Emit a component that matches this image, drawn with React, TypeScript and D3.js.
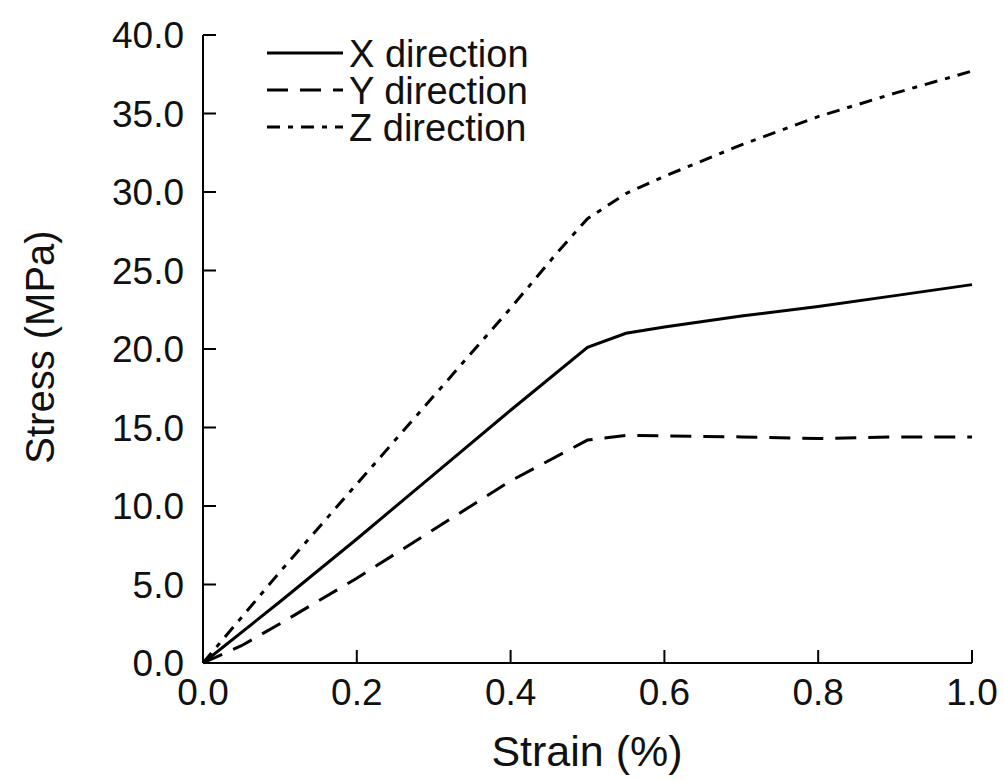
import React from 'react';
import * as d3 from 'd3';

// strain (%) sample points and stress (MPa) for each direction
const strainX = [0, 0.1, 0.2, 0.3, 0.4, 0.5, 0.55, 0.6, 0.7, 0.8, 0.9, 1.0];
const stressX = [0, 3.9, 7.9, 12.0, 16.1, 20.1, 21.0, 21.4, 22.1, 22.7, 23.4, 24.1];

const strainY = [0, 0.05, 0.1, 0.2, 0.3, 0.4, 0.5, 0.55, 0.7, 0.8, 0.9, 1.0];
const stressY = [0, 1.1, 2.5, 5.4, 8.5, 11.6, 14.2, 14.5, 14.4, 14.3, 14.4, 14.4];

const strainZ = [0, 0.1, 0.2, 0.3, 0.4, 0.46, 0.5, 0.55, 0.6, 0.7, 0.8, 0.9, 1.0];
const stressZ = [0, 5.8, 11.4, 17.0, 22.6, 26.1, 28.3, 29.9, 31.0, 33.0, 34.8, 36.3, 37.7];

const xTicks = [0, 0.2, 0.4, 0.6, 0.8, 1.0];
const yTicks = [0, 5, 10, 15, 20, 25, 30, 35, 40];

const seriesNames = ['X direction', 'Y direction', 'Z direction'];
const dashes = ['none', '21 12', '13 8 5 8'];

const W = 1004;
const H = 781;
const FONT = '"Liberation Sans", Arial, Helvetica, sans-serif';

const App = () => {
  const x = d3.scaleLinear().domain([0, 1]).range([203, 972]);
  const y = d3.scaleLinear().domain([0, 40]).range([663, 35]);

  const line = d3
    .line<[number, number]>()
    .x((d) => x(d[0]))
    .y((d) => y(d[1]));

  const series = [
    strainX.map((s, i) => [s, stressX[i]] as [number, number]),
    strainY.map((s, i) => [s, stressY[i]] as [number, number]),
    strainZ.map((s, i) => [s, stressZ[i]] as [number, number]),
  ];

  return (
    <svg
      width={W}
      height={H}
      style={{ position: 'absolute', left: 0, top: 0, background: '#fff' }}
      fontFamily={FONT}
    >
      {/* axes */}
      <line x1={x(0)} x2={x(0)} y1={y(40)} y2={y(0)} stroke="#000" strokeWidth={2} />
      <line x1={x(0)} x2={x(1)} y1={y(0)} y2={y(0)} stroke="#000" strokeWidth={2} />

      {yTicks.map((t) => (
        <g key={'y' + t}>
          <line x1={x(0)} x2={x(0) + 13} y1={y(t)} y2={y(t)} stroke="#000" strokeWidth={2} />
          <text x={184} y={y(t)} dy="0.36em" textAnchor="end" fontSize={37} fill="#111">
            {t.toFixed(1)}
          </text>
        </g>
      ))}

      {xTicks.map((t) => (
        <g key={'x' + t}>
          <line x1={x(t)} x2={x(t)} y1={y(0)} y2={y(0) - 13} stroke="#000" strokeWidth={2} />
          <text x={x(t)} y={705} textAnchor="middle" fontSize={37} fill="#111">
            {t.toFixed(1)}
          </text>
        </g>
      ))}

      <text x={587} y={766} textAnchor="middle" fontSize={43} fill="#111">
        Strain (%)
      </text>
      <text
        transform={`translate(54, 347) rotate(-90)`}
        textAnchor="middle"
        fontSize={40}
        fill="#111"
      >
        Stress (MPa)
      </text>

      {/* data lines */}
      {series.map((s, i) => (
        <path
          key={seriesNames[i]}
          d={line(s) || ''}
          fill="none"
          stroke="#000"
          strokeWidth={3}
          strokeDasharray={dashes[i]}
        />
      ))}

      {/* legend */}
      {seriesNames.map((name, i) => {
        const ly = 53 + i * 37;
        return (
          <g key={'leg' + name}>
            <line
              x1={267}
              x2={343}
              y1={ly}
              y2={ly}
              stroke="#000"
              strokeWidth={3}
              strokeDasharray={dashes[i]}
            />
            <text x={349} y={ly} dy="0.36em" fontSize={38} fill="#111">
              {name}
            </text>
          </g>
        );
      })}
    </svg>
  );
};

export default App;
